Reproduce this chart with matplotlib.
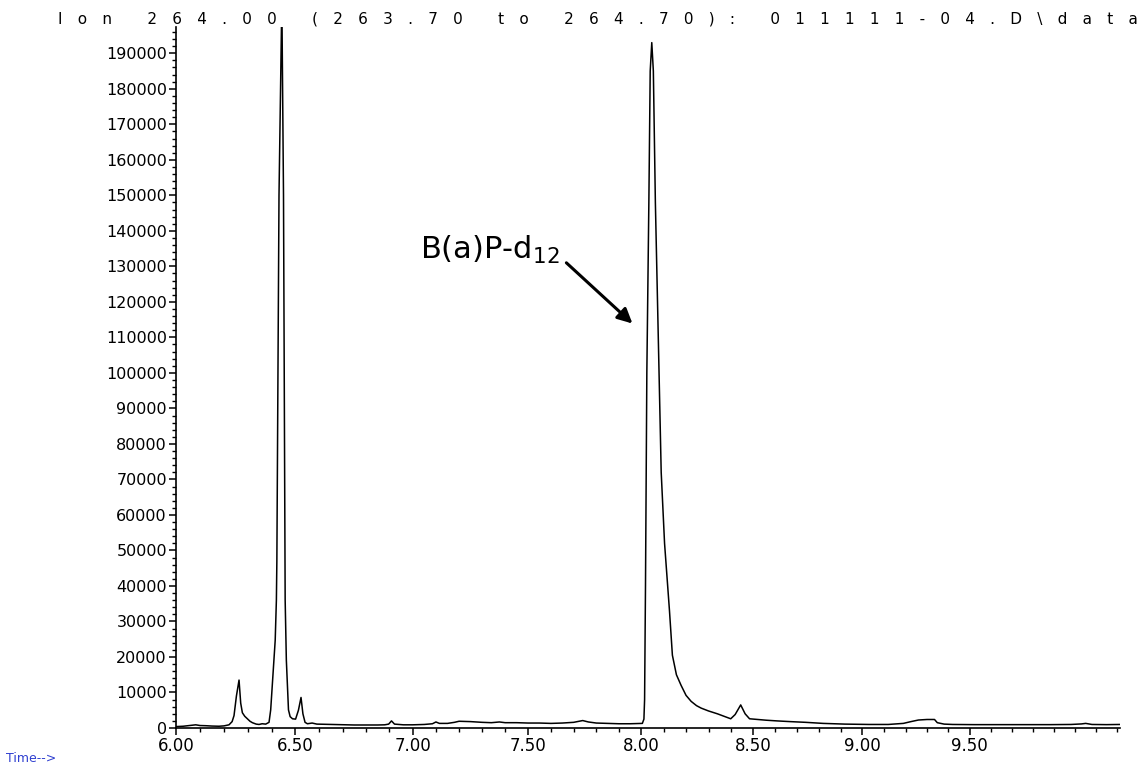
import numpy as np
import matplotlib
matplotlib.use("Agg")
import matplotlib.pyplot as plt
from matplotlib.ticker import FixedLocator, MultipleLocator, FormatStrFormatter

# ion chromatogram, m/z 264
time_min = [
    6.000, 6.030, 6.055, 6.082, 6.100, 6.124, 6.150, 6.179, 6.200, 6.221,
    6.234, 6.242, 6.252, 6.263, 6.270, 6.277, 6.287, 6.298, 6.309, 6.319,
    6.335, 6.347, 6.360, 6.375, 6.389, 6.396, 6.406, 6.415, 6.420, 6.422,
    6.431, 6.443, 6.450, 6.456, 6.457, 6.462, 6.471, 6.478, 6.488, 6.501,
    6.513, 6.524, 6.532, 6.541, 6.551, 6.571, 6.591, 6.650, 6.700, 6.750,
    6.800, 6.850, 6.880, 6.897, 6.909, 6.922, 6.960, 7.000, 7.050, 7.085,
    7.100, 7.115, 7.150, 7.180, 7.200, 7.250, 7.300, 7.340, 7.375, 7.400,
    7.450, 7.500, 7.550, 7.600, 7.650, 7.700, 7.740, 7.765, 7.800, 7.850,
    7.900, 7.950, 8.004, 8.011, 8.014, 8.018, 8.024, 8.033, 8.039, 8.046,
    8.053, 8.062, 8.088, 8.103, 8.125, 8.138, 8.156, 8.177, 8.199, 8.222,
    8.246, 8.267, 8.300, 8.340, 8.375, 8.400, 8.420, 8.445, 8.465, 8.485,
    8.520, 8.560, 8.610, 8.670, 8.740, 8.820, 8.920, 9.030, 9.120, 9.190,
    9.225, 9.260, 9.300, 9.335, 9.348, 9.380, 9.420, 9.520, 9.640, 9.760,
    9.880, 9.980, 10.030, 10.050, 10.080, 10.150, 10.215,
]
abundance = [
    400, 500, 700, 900, 700, 650, 550, 500, 600, 900,
    1800, 3500, 9000, 13500, 7000, 4300, 3300, 2600, 1900, 1500,
    1100, 1000, 1200, 1100, 1600, 5100, 15600, 24700, 36000, 47000,
    150000, 205000, 150000, 47000, 36000, 19100, 5100, 3200, 2600, 2500,
    5000, 8600, 4000, 1600, 1200, 1400, 1100, 1000, 900, 850,
    850, 850, 900, 1100, 2000, 1100, 900, 900, 1000, 1200,
    1700, 1300, 1300, 1600, 1900, 1800, 1600, 1500, 1700, 1500,
    1500, 1400, 1400, 1300, 1400, 1600, 2100, 1700, 1400, 1300,
    1200, 1200, 1300, 2500, 8000, 40000, 100000, 148000, 185000, 193000,
    185000, 148000, 72000, 52000, 33000, 20500, 15000, 12000, 9200, 7500,
    6300, 5600, 4800, 4000, 3200, 2600, 3800, 6500, 4000, 2600,
    2400, 2200, 2000, 1800, 1600, 1300, 1100, 1000, 1000, 1300,
    1800, 2250, 2400, 2400, 1500, 1100, 1000, 950, 950, 950,
    950, 1000, 1150, 1300, 1000, 950, 1000,
]

x_ticks = [6.0, 6.5, 7.0, 7.5, 8.0, 8.5, 9.0, 9.5]

title = "Ion 264.00 (263.70 to 264.70): 011111-04.D\\data"
peak_label = "B(a)P-d$_{12}$"


# the printout's time axis is not quite linear, the labels get closer
# towards the right -- a gentle quadratic matches it well enough
def time_fwd(t):
    u = np.asarray(t, dtype=float) - 6.0
    return 240.4 * u - 3.95 * u ** 2


def time_inv(s):
    s = np.asarray(s, dtype=float)
    root = np.sqrt(np.maximum(240.4 ** 2 - 4 * 3.95 * s, 0.0))
    return 6.0 + (240.4 - root) / (2 * 3.95)


plt.rcParams['font.family'] = ['DejaVu Sans']

fig = plt.figure(figsize=(11.46, 7.69), dpi=100)
ax = fig.add_axes([0.1536, 0.0533, 0.8237, 0.9116])

ax.plot(time_min, abundance, color='black', lw=1.1)

ax.set_xscale('function', functions=(time_fwd, time_inv))
ax.set_xlim(6.0, 10.215)
ax.set_ylim(0, 197400)

# only left and bottom, like the printout
ax.spines['top'].set_visible(False)
ax.spines['right'].set_visible(False)
ax.spines['left'].set_linewidth(1.2)
ax.spines['bottom'].set_linewidth(1.2)

ax.xaxis.set_major_locator(FixedLocator(x_ticks))
ax.xaxis.set_minor_locator(MultipleLocator(0.1))
ax.xaxis.set_major_formatter(FormatStrFormatter('%.2f'))
ax.yaxis.set_major_locator(MultipleLocator(10000))
ax.yaxis.set_minor_locator(MultipleLocator(2000))
ax.yaxis.set_major_formatter(FormatStrFormatter('%d'))

ax.tick_params(axis='both', which='major', direction='out', length=5, width=1.1,
               pad=1.5)
ax.tick_params(axis='y', which='major', labelsize=11.5)
ax.tick_params(axis='x', which='major', labelsize=12)
ax.tick_params(axis='both', which='minor', direction='out', length=3, width=1.0)

# letter-spaced header, em spaces between every character
spaced = "\u2003".join(list(title))
fig.text(58 / 1146, 1 - 24 / 769, spaced, fontsize=11, va='baseline', ha='left')

fig.text(6 / 1146, 11 / 769, "Time-->", color='#2f3fd0', fontsize=9,
         va='center', ha='left')

ax.text(7.637, 132000, peak_label, fontsize=22, ha='right', va='baseline')
ax.annotate("", xy=(7.96, 113900), xytext=(7.668, 131000),
            arrowprops=dict(arrowstyle='-|>', mutation_scale=22, lw=2.2,
                            color='black', shrinkA=0, shrinkB=0))

fig.savefig("out.png", dpi=100)
